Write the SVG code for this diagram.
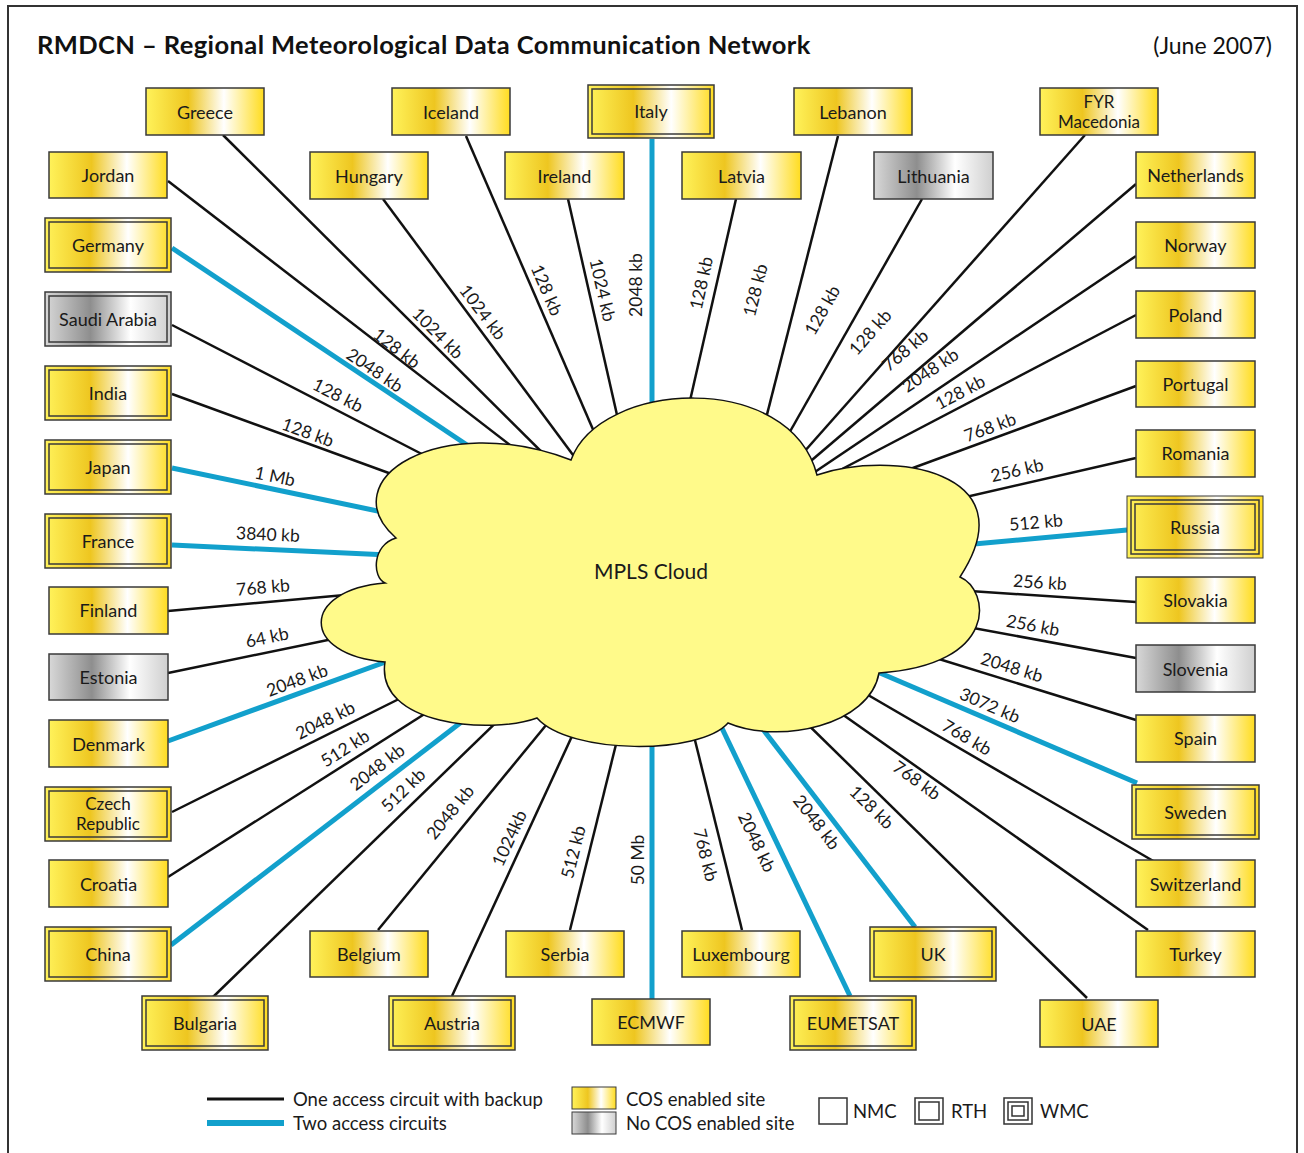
<svg xmlns="http://www.w3.org/2000/svg" width="1304" height="1153" viewBox="0 0 1304 1153">
<defs>
<linearGradient id="gy" x1="0" y1="0" x2="1" y2="0">
<stop offset="0" stop-color="#FFF25A"/><stop offset="0.36" stop-color="#EEC620"/><stop offset="0.66" stop-color="#FFFFFF"/><stop offset="1" stop-color="#FFDC1E"/>
</linearGradient>
<linearGradient id="gg" x1="0" y1="0" x2="1" y2="0">
<stop offset="0" stop-color="#D8D8D8"/><stop offset="0.36" stop-color="#8E8E8E"/><stop offset="0.68" stop-color="#FFFFFF"/><stop offset="1" stop-color="#CFCFCF"/>
</linearGradient>
<style>
.b{stroke:#3a3a3a;stroke-width:1.5}
.y{fill:url(#gy)}
.g{fill:url(#gg)}
.n{fill:none}
.t{font-family:Lato,"Open Sans",sans-serif;font-size:18px;fill:#1a1a1a;text-anchor:middle;dominant-baseline:central}
.t2{font-size:17px}
.k{stroke:#111;stroke-width:2.5;fill:none}
.u{stroke:#12A0CC;stroke-width:5;fill:none}
.l{font-family:Lato,"Open Sans",sans-serif;font-size:17.5px;fill:#1a1a1a;text-anchor:middle;dominant-baseline:central}
.lg{font-family:Lato,"Open Sans",sans-serif;font-size:18.5px;fill:#1a1a1a}
</style>
</defs>
<rect x="0" y="0" width="1304" height="1153" fill="#fff"/>
<rect x="8" y="6" width="1289" height="1170" fill="none" stroke="#333" stroke-width="2"/>
<text x="37" y="54" font-family="Lato,'Open Sans',sans-serif" font-size="25.5" font-weight="bold" letter-spacing="0.4" fill="#111">RMDCN – Regional Meteorological Data Communication Network</text>
<text x="1272" y="54" font-family="Lato,'Open Sans',sans-serif" font-size="23" fill="#111" text-anchor="end">(June 2007)</text>

<g id="connectors">
<line class="k" x1="168" y1="181" x2="554" y2="479"/>
<line class="k" x1="223" y1="135" x2="581" y2="491"/>
<line class="k" x1="383" y1="199" x2="596" y2="486"/>
<line class="k" x1="466" y1="136" x2="614" y2="478"/>
<line class="k" x1="568" y1="199" x2="627" y2="459"/>
<line class="u" x1="652" y1="139" x2="652" y2="430"/>
<line class="k" x1="736" y1="199" x2="684" y2="427"/>
<line class="k" x1="838" y1="136" x2="760" y2="442"/>
<line class="k" x1="922" y1="199" x2="775" y2="458"/>
<line class="k" x1="1085" y1="135" x2="788" y2="470"/>
<line class="k" x1="1136" y1="184" x2="792" y2="477"/>
<line class="k" x1="1136" y1="256" x2="797" y2="484"/>
<line class="k" x1="1136" y1="315" x2="823" y2="479"/>
<line class="k" x1="1136" y1="386" x2="872" y2="483"/>
<line class="k" x1="1136" y1="458" x2="931" y2="505"/>
<line class="u" x1="1127" y1="530" x2="952" y2="546"/>
<line class="k" x1="1136" y1="602" x2="940" y2="589"/>
<line class="k" x1="1136" y1="658" x2="946" y2="623"/>
<line class="k" x1="1136" y1="720" x2="926" y2="655"/>
<line class="u" x1="1137" y1="783" x2="859" y2="664"/>
<line class="k" x1="1155" y1="862" x2="844" y2="681"/>
<line class="k" x1="1148" y1="930" x2="815" y2="695"/>
<line class="k" x1="1087" y1="998" x2="789" y2="706"/>
<line class="u" x1="915" y1="927" x2="745" y2="706"/>
<line class="u" x1="850" y1="996" x2="709" y2="701"/>
<line class="k" x1="742" y1="930" x2="687" y2="708"/>
<line class="u" x1="652" y1="999" x2="652" y2="712"/>
<line class="k" x1="570" y1="930" x2="625" y2="708"/>
<line class="k" x1="452" y1="996" x2="591" y2="695"/>
<line class="k" x1="378" y1="930" x2="565" y2="702"/>
<line class="k" x1="213" y1="997" x2="513" y2="706"/>
<line class="u" x1="171" y1="945" x2="481" y2="707"/>
<line class="k" x1="168" y1="877" x2="445" y2="701"/>
<line class="k" x1="172" y1="812" x2="419" y2="689"/>
<line class="u" x1="168" y1="741" x2="413" y2="652"/>
<line class="k" x1="168" y1="673" x2="357" y2="634"/>
<line class="k" x1="168" y1="611" x2="378" y2="592"/>
<line class="u" x1="172" y1="545" x2="410" y2="556"/>
<line class="u" x1="172" y1="468" x2="392" y2="514"/>
<line class="k" x1="172" y1="394" x2="408" y2="480"/>
<line class="k" x1="172" y1="325" x2="445" y2="466"/>
<line class="u" x1="172" y1="248" x2="488" y2="459"/>

<text class="l" transform="translate(397,348) rotate(37.7)">128 kb</text>
<text class="l" transform="translate(438,333) rotate(45.2)">1024 kb</text>
<text class="l" transform="translate(483,312) rotate(52.8)">1024 kb</text>
<text class="l" transform="translate(547,290) rotate(66.6)">128 kb</text>
<text class="l" transform="translate(603,290) rotate(77.2)">1024 kb</text>
<text class="l" transform="translate(635,285) rotate(-90)">2048 kb</text>
<text class="l" transform="translate(701,283) rotate(-77.3)">128 kb</text>
<text class="l" transform="translate(755,290) rotate(-75.6)">128 kb</text>
<text class="l" transform="translate(822,310) rotate(-60.5)">128 kb</text>
<text class="l" transform="translate(870,332) rotate(-48.5)">128 kb</text>
<text class="l" transform="translate(905,350) rotate(-40.5)">768 kb</text>
<text class="l" transform="translate(930,370) rotate(-33.9)">2048 kb</text>
<text class="l" transform="translate(960,392) rotate(-27.7)">128 kb</text>
<text class="l" transform="translate(990,427) rotate(-20.2)">768 kb</text>
<text class="l" transform="translate(1017,470) rotate(-12.8)">256 kb</text>
<text class="l" transform="translate(1036,522) rotate(-5.1)">512 kb</text>
<text class="l" transform="translate(1040,582) rotate(3.8)">256 kb</text>
<text class="l" transform="translate(1033,625) rotate(10.6)">256 kb</text>
<text class="l" transform="translate(1012,667) rotate(17.2)">2048 kb</text>
<text class="l" transform="translate(990,705) rotate(23.2)">3072 kb</text>
<text class="l" transform="translate(967,737) rotate(30.2)">768 kb</text>
<text class="l" transform="translate(917,780) rotate(35.3)">768 kb</text>
<text class="l" transform="translate(872,807) rotate(44.4)">128 kb</text>
<text class="l" transform="translate(817,822) rotate(52.3)">2048 kb</text>
<text class="l" transform="translate(757,842) rotate(64.5)">2048 kb</text>
<text class="l" transform="translate(706,855) rotate(76)">768 kb</text>
<text class="l" transform="translate(637,860) rotate(-90)">50 Mb</text>
<text class="l" transform="translate(573,852) rotate(-76)">512 kb</text>
<text class="l" transform="translate(509,838) rotate(-65.3)">1024kb</text>
<text class="l" transform="translate(450,812) rotate(-50.7)">2048 kb</text>
<text class="l" transform="translate(403,790) rotate(-44.2)">512 kb</text>
<text class="l" transform="translate(377,767) rotate(-37.6)">2048 kb</text>
<text class="l" transform="translate(345,748) rotate(-32.4)">512 kb</text>
<text class="l" transform="translate(325,720) rotate(-26.6)">2048 kb</text>
<text class="l" transform="translate(297,680) rotate(-20)">2048 kb</text>
<text class="l" transform="translate(267,637) rotate(-11.7)">64 kb</text>
<text class="l" transform="translate(263,587) rotate(-5.1)">768 kb</text>
<text class="l" transform="translate(268,534) rotate(2.7)">3840 kb</text>
<text class="l" transform="translate(275,476) rotate(11.8)">1 Mb</text>
<text class="l" transform="translate(308,432) rotate(20)">128 kb</text>
<text class="l" transform="translate(338,395) rotate(27.3)">128 kb</text>
<text class="l" transform="translate(375,370) rotate(34.3)">2048 kb</text>
</g>

<g id="mpls-cloud">
<path d="M571,460 C600,380 790,370 817,475 C890,450 1030,470 960,577 C990,590 1000,665 879,673 C870,725 780,745 728,723 C700,755 570,755 537,718 C490,735 375,725 385,662 C300,655 300,590 385,583 C372,577 372,545 396,538 C330,480 440,410 571,460 Z" fill="#FFFA8A" stroke="#111" stroke-width="1.5"/>
<text class="t" x="651" y="570" style="font-size:21px">MPLS Cloud</text>
</g>

<g id="greece"><rect class="b y" x="146" y="88" width="118" height="47"/><text class="t" x="205" y="112">Greece</text></g>
<g id="iceland"><rect class="b y" x="392" y="88" width="118" height="47"/><text class="t" x="451" y="112">Iceland</text></g>
<g id="italy"><rect class="b y" x="588" y="85" width="126" height="53"/><rect class="b n" x="592" y="89" width="118" height="45"/><text class="t" x="651" y="111">Italy</text></g>
<g id="lebanon"><rect class="b y" x="794" y="88" width="118" height="47"/><text class="t" x="853" y="112">Lebanon</text></g>
<g id="fyr-macedonia"><rect class="b y" x="1040" y="88" width="118" height="47"/><text class="t t2" x="1099" y="101">FYR</text><text class="t t2" x="1099" y="121">Macedonia</text></g>
<g id="jordan"><rect class="b y" x="49" y="152" width="118" height="46"/><text class="t" x="108" y="175">Jordan</text></g>
<g id="hungary"><rect class="b y" x="310" y="152" width="118" height="47"/><text class="t" x="369" y="176">Hungary</text></g>
<g id="ireland"><rect class="b y" x="505" y="152" width="119" height="47"/><text class="t" x="564.5" y="176">Ireland</text></g>
<g id="latvia"><rect class="b y" x="682" y="152" width="119" height="47"/><text class="t" x="741.5" y="176">Latvia</text></g>
<g id="lithuania"><rect class="b g" x="874" y="152" width="119" height="47"/><text class="t" x="933.5" y="176">Lithuania</text></g>
<g id="netherlands"><rect class="b y" x="1136" y="152" width="119" height="46"/><text class="t" x="1195.5" y="175">Netherlands</text></g>
<g id="germany"><rect class="b y" x="45" y="218" width="126" height="54"/><rect class="b n" x="49" y="222" width="118" height="46"/><text class="t" x="108" y="245">Germany</text></g>
<g id="norway"><rect class="b y" x="1136" y="222" width="119" height="46"/><text class="t" x="1195.5" y="245">Norway</text></g>
<g id="saudi-arabia"><rect class="b g" x="45" y="292" width="126" height="54"/><rect class="b n" x="49" y="296" width="118" height="46"/><text class="t" x="108" y="319">Saudi Arabia</text></g>
<g id="poland"><rect class="b y" x="1136" y="291" width="119" height="47"/><text class="t" x="1195.5" y="315">Poland</text></g>
<g id="india"><rect class="b y" x="45" y="366" width="126" height="54"/><rect class="b n" x="49" y="370" width="118" height="46"/><text class="t" x="108" y="393">India</text></g>
<g id="portugal"><rect class="b y" x="1136" y="361" width="119" height="46"/><text class="t" x="1195.5" y="384">Portugal</text></g>
<g id="japan"><rect class="b y" x="45" y="440" width="126" height="54"/><rect class="b n" x="49" y="444" width="118" height="46"/><text class="t" x="108" y="467">Japan</text></g>
<g id="romania"><rect class="b y" x="1136" y="430" width="119" height="47"/><text class="t" x="1195.5" y="453">Romania</text></g>
<g id="france"><rect class="b y" x="45" y="514" width="126" height="54"/><rect class="b n" x="49" y="518" width="118" height="46"/><text class="t" x="108" y="541">France</text></g>
<g id="russia"><rect class="b y" x="1127" y="496" width="136" height="62" style="stroke-width:1"/><rect class="b n" x="1131" y="500" width="128" height="54"/><rect class="b n" x="1135" y="504" width="120" height="46"/><text class="t" x="1195" y="527">Russia</text></g>
<g id="finland"><rect class="b y" x="49" y="587" width="119" height="47"/><text class="t" x="108.5" y="610">Finland</text></g>
<g id="slovakia"><rect class="b y" x="1136" y="577" width="119" height="46"/><text class="t" x="1195.5" y="600">Slovakia</text></g>
<g id="estonia"><rect class="b g" x="49" y="654" width="119" height="46"/><text class="t" x="108.5" y="677">Estonia</text></g>
<g id="slovenia"><rect class="b g" x="1136" y="645" width="119" height="47"/><text class="t" x="1195.5" y="669">Slovenia</text></g>
<g id="denmark"><rect class="b y" x="49" y="720" width="119" height="47"/><text class="t" x="108.5" y="744">Denmark</text></g>
<g id="spain"><rect class="b y" x="1136" y="715" width="119" height="47"/><text class="t" x="1195.5" y="738">Spain</text></g>
<g id="czech-republic"><rect class="b y" x="45" y="787" width="126" height="54"/><rect class="b n" x="49" y="791" width="118" height="46"/><text class="t t2" x="108" y="803">Czech</text><text class="t t2" x="108" y="823">Republic</text></g>
<g id="sweden"><rect class="b y" x="1132" y="785" width="127" height="54"/><rect class="b n" x="1136" y="789" width="119" height="46"/><text class="t" x="1195.5" y="812">Sweden</text></g>
<g id="croatia"><rect class="b y" x="49" y="860" width="119" height="47"/><text class="t" x="108.5" y="884">Croatia</text></g>
<g id="switzerland"><rect class="b y" x="1136" y="860" width="119" height="47"/><text class="t" x="1195.5" y="884">Switzerland</text></g>
<g id="china"><rect class="b y" x="45" y="927" width="126" height="54"/><rect class="b n" x="49" y="931" width="118" height="46"/><text class="t" x="108" y="954">China</text></g>
<g id="belgium"><rect class="b y" x="310" y="931" width="118" height="46"/><text class="t" x="369" y="954">Belgium</text></g>
<g id="serbia"><rect class="b y" x="506" y="931" width="118" height="46"/><text class="t" x="565" y="954">Serbia</text></g>
<g id="luxembourg"><rect class="b y" x="682" y="931" width="118" height="46"/><text class="t" x="741" y="954">Luxembourg</text></g>
<g id="uk"><rect class="b y" x="870" y="927" width="126" height="54"/><rect class="b n" x="874" y="931" width="118" height="46"/><text class="t" x="933" y="954">UK</text></g>
<g id="turkey"><rect class="b y" x="1136" y="931" width="119" height="46"/><text class="t" x="1195.5" y="954">Turkey</text></g>
<g id="bulgaria"><rect class="b y" x="142" y="996" width="126" height="54"/><rect class="b n" x="146" y="1000" width="118" height="46"/><text class="t" x="205" y="1023">Bulgaria</text></g>
<g id="austria"><rect class="b y" x="389" y="996" width="126" height="54"/><rect class="b n" x="393" y="1000" width="118" height="46"/><text class="t" x="452" y="1023">Austria</text></g>
<g id="ecmwf"><rect class="b y" x="592" y="999" width="118" height="46"/><text class="t" x="651" y="1022">ECMWF</text></g>
<g id="eumetsat"><rect class="b y" x="790" y="996" width="126" height="54"/><rect class="b n" x="794" y="1000" width="118" height="46"/><text class="t" x="853" y="1023">EUMETSAT</text></g>
<g id="uae"><rect class="b y" x="1040" y="1000" width="118" height="47"/><text class="t" x="1099" y="1024">UAE</text></g>

<g id="legend">
<line x1="207" y1="1099" x2="284" y2="1099" stroke="#111" stroke-width="3"/>
<line x1="207" y1="1123" x2="284" y2="1123" stroke="#12A0CC" stroke-width="6"/>
<text class="lg" x="293" y="1106">One access circuit with backup</text>
<text class="lg" x="293" y="1130">Two access circuits</text>
<rect class="b y" x="572" y="1087" width="44" height="22" style="stroke-width:1"/>
<rect class="b g" x="572" y="1112" width="44" height="22" style="stroke-width:1"/>
<text class="lg" x="626" y="1106">COS enabled site</text>
<text class="lg" x="626" y="1130">No COS enabled site</text>
<rect x="819" y="1098" width="28" height="26" fill="#fff" stroke="#333" stroke-width="1.5"/>
<text class="lg" x="853" y="1118">NMC</text>
<rect x="915" y="1098" width="28" height="26" fill="#fff" stroke="#333" stroke-width="1.5"/>
<rect x="919" y="1102" width="20" height="18" fill="none" stroke="#333" stroke-width="1.5"/>
<text class="lg" x="951" y="1118">RTH</text>
<rect x="1004" y="1098" width="28" height="26" fill="#fff" stroke="#333" stroke-width="1.5"/>
<rect x="1008" y="1102" width="20" height="18" fill="none" stroke="#333" stroke-width="1.5"/>
<rect x="1012" y="1106" width="12" height="10" fill="none" stroke="#333" stroke-width="1.5"/>
<text class="lg" x="1040" y="1118">WMC</text>
</g>
</svg>
